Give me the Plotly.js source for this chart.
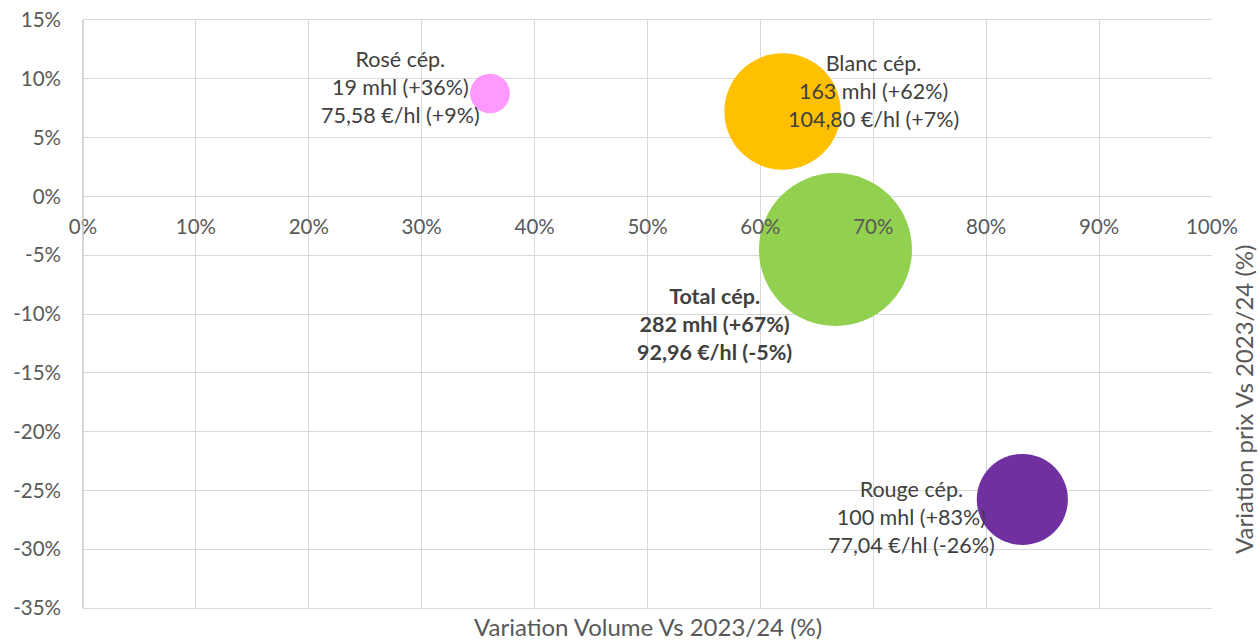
<!DOCTYPE html>
<html>
<head>
<meta charset="utf-8">
<script src="https://cdn.plot.ly/plotly-3.0.1.min.js"></script>
<style>html,body{margin:0;padding:0;background:#fff;}#chart{width:1260px;height:642px;}</style>
</head>
<body>
<div id="chart"></div>
<script>
// ---- data ----
const categories   = ['Rosé cép.', 'Blanc cép.', 'Rouge cép.', 'Total cép.'];
const volumeVar    = [0.3605, 0.6196, 0.8320, 0.6665];   // variation volume vs 2023/24
const priceVar     = [0.0875, 0.0722, -0.2577, -0.0452]; // variation prix vs 2023/24
const volumeMhl    = [19, 163, 100, 282];                 // bubble size
const priceEurHl   = [75.58, 104.80, 77.04, 92.96];
const colors       = ['#FF99FF', '#FFC000', '#7030A0', '#92D050'];
const xTickVals    = [0, 0.1, 0.2, 0.3, 0.4, 0.5, 0.6, 0.7, 0.8, 0.9, 1.0];
const xTickText    = ['0%','10%','20%','30%','40%','50%','60%','70%','80%','90%','100%'];
const yTickVals    = [-0.35,-0.30,-0.25,-0.20,-0.15,-0.10,-0.05,0,0.05,0.10,0.15];
const yTickText    = ['-35%','-30%','-25%','-20%','-15%','-10%','-5%','0%','5%','10%','15%'];

// label placement (pixels, relative to bubble centre)
const labelShift = [[-90, 7], [91, 20], [-111, -18], [-121, -74]];
const labelBold  = [false, false, false, true];

const FONT = 'Lato, "Open Sans", sans-serif';
const fmtSigned = v => (v >= 0 ? '+' : '') + Math.round(v * 100) + '%';
const fmtPrice  = v => v.toFixed(2).replace('.', ',');

const labels = categories.map((c, i) => {
  const lines = [c,
    volumeMhl[i] + ' mhl (' + fmtSigned(volumeVar[i]) + ')',
    fmtPrice(priceEurHl[i]) + ' €/hl (' + fmtSigned(priceVar[i]) + ')'];
  return labelBold[i] ? lines.map(l => '<b>' + l + '</b>').join('<br>') : lines.join('<br>');
});

const maxDiameterPx = 153;
const trace = {
  type: 'scatter', mode: 'markers',
  x: volumeVar, y: priceVar,
  marker: {
    size: volumeMhl, sizemode: 'area',
    sizeref: 2 * Math.max(...volumeMhl) / (maxDiameterPx * maxDiameterPx),
    color: colors, opacity: 1, line: {width: 0}
  },
  hoverinfo: 'skip', showlegend: false
};

const annotations = categories.map((c, i) => ({
  x: volumeVar[i], y: priceVar[i], xref: 'x', yref: 'y',
  text: labels[i], showarrow: false, align: 'center',
  xanchor: 'center', yanchor: 'middle',
  xshift: labelShift[i][0], yshift: labelShift[i][1],
  font: {family: FONT, size: 21.5, color: '#404040'}
}));
annotations.push({
  x: 0.5, y: 0, xref: 'paper', yref: 'paper', showarrow: false,
  text: 'Variation Volume Vs 2023/24 (%)', xanchor: 'center', yanchor: 'middle', yshift: -18,
  font: {family: FONT, size: 24, color: '#595959'}
});
annotations.push({
  x: 1, y: 0.5, xref: 'paper', yref: 'paper', showarrow: false, textangle: -90,
  text: 'Variation prix Vs 2023/24 (%)', xanchor: 'center', yanchor: 'middle', xshift: 31, yshift: -86,
  font: {family: FONT, size: 24, color: '#595959'}
});

const layout = {
  width: 1260, height: 642,
  margin: {l: 83, r: 48, t: 20, b: 34},
  paper_bgcolor: '#ffffff', plot_bgcolor: '#ffffff',
  font: {family: FONT, size: 20.5, color: '#595959'},
  hovermode: false,
  xaxis: {
    range: [0, 1], tickvals: xTickVals, ticktext: xTickText, showticklabels: false,
    showgrid: true, gridcolor: '#D9D9D9', gridwidth: 1, zeroline: false,
    showline: true, linecolor: '#D9D9D9', linewidth: 1, mirror: true, ticks: '', fixedrange: true
  },
  xaxis2: {
    overlaying: 'x', anchor: 'free', position: 0.7, side: 'bottom',
    range: [0, 1], tickvals: xTickVals, ticktext: xTickText,
    showgrid: false, zeroline: false, showline: false, ticks: '',
    ticklabelstandoff: 16,
    tickfont: {family: FONT, size: 20.5, color: '#595959'}, fixedrange: true
  },
  yaxis: {
    range: [-0.35, 0.15], tickvals: yTickVals, ticktext: yTickText,
    showgrid: true, gridcolor: '#D9D9D9', gridwidth: 1, zeroline: false,
    showline: false, ticks: '', ticklabelstandoff: 21,
    tickfont: {family: FONT, size: 20.5, color: '#595959'}, fixedrange: true
  },
  shapes: [{
    type: 'line', xref: 'paper', yref: 'paper', x0: 0, x1: 0, y0: 0, y1: 1,
    line: {color: '#BFBFBF', width: 1.3}, layer: 'above'
  }],
  annotations: annotations
};

// empty trace binding the overlay x axis (tick labels at the 0% line)
const axisTrace = {type: 'scatter', mode: 'markers', x: [], y: [], xaxis: 'x2', yaxis: 'y', showlegend: false, hoverinfo: 'skip'};

Plotly.newPlot('chart', [trace, axisTrace], layout, {staticPlot: true, displayModeBar: false});
</script>
</body>
</html>
